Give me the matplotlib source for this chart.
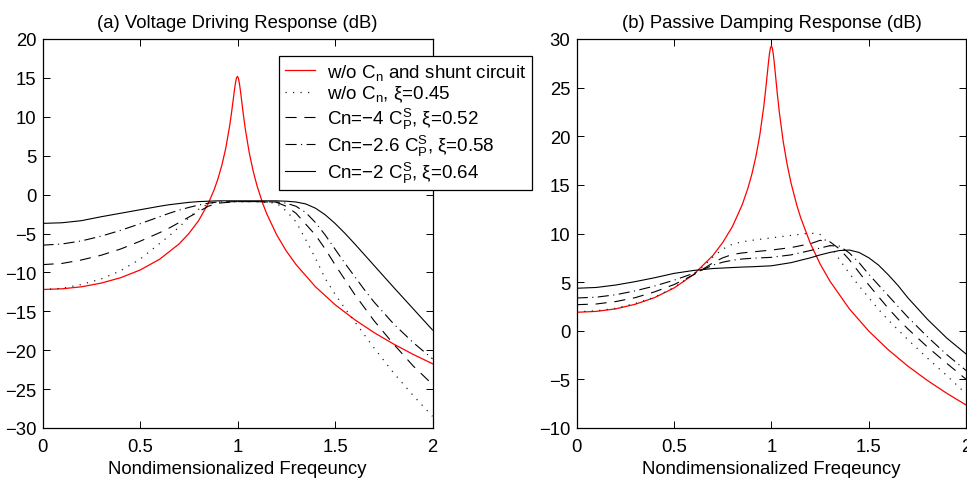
import matplotlib
matplotlib.use("Agg")
import matplotlib.pyplot as plt

plt.rcParams['font.family'] = ['Liberation Sans', 'DejaVu Sans']
plt.rcParams['mathtext.fontset'] = 'custom'
plt.rcParams['mathtext.rm'] = 'Liberation Sans'
plt.rcParams['mathtext.it'] = 'Liberation Sans:italic'
plt.rcParams['mathtext.bf'] = 'Liberation Sans:bold'

# ---------------- data ----------------
freq_fine = [0, 0.1, 0.2, 0.3, 0.4, 0.5, 0.6, 0.7, 0.75, 0.8, 0.85, 0.88, 0.9, 0.92, 0.94,
             0.96, 0.97, 0.98, 0.985, 0.99, 0.995, 1.0, 1.005, 1.01, 1.015, 1.02, 1.03, 1.04,
             1.06, 1.08, 1.1, 1.13, 1.15, 1.2, 1.25, 1.3, 1.4, 1.5, 1.6, 1.7, 1.8, 1.9, 2.0]

voltage_no_shunt = [-12.2, -12.11, -11.85, -11.38, -10.69, -9.7, -8.32, -6.35, -5.02, -3.37,
                    -1.14, 0.61, 2.05, 3.8, 5.99, 8.87, 10.64, 12.59, 13.56, 14.42, 15.01, 15.2,
                    14.92, 14.26, 13.35, 12.33, 10.29, 8.44, 5.41, 3.06, 1.14, -1.18, -2.47,
                    -5.13, -7.24, -8.99, -11.85, -14.14, -16.06, -17.73, -19.2, -20.53, -21.74]

damping_no_shunt = [1.9, 1.99, 2.25, 2.72, 3.41, 4.4, 5.78, 7.75, 9.08, 10.73, 12.96, 14.71,
                    16.15, 17.9, 20.09, 22.97, 24.74, 26.69, 27.66, 28.52, 29.11, 29.3, 29.02,
                    28.36, 27.45, 26.43, 24.39, 22.54, 19.51, 17.16, 15.24, 12.92, 11.63, 8.97,
                    6.86, 5.11, 2.25, -0.04, -1.96, -3.63, -5.1, -6.43, -7.64]

freq = [0, 0.1, 0.2, 0.3, 0.4, 0.5, 0.6, 0.65, 0.7, 0.75, 0.8, 0.85, 0.9, 1.0, 1.1, 1.2,
        1.25, 1.3, 1.35, 1.4, 1.45, 1.5, 1.55, 1.6, 1.65, 1.7, 1.8, 1.9, 2.0]

voltage_xi045 = [-12.2, -12.05, -11.55, -10.85, -9.8, -8.3, -6.3, -5.3, -4.2, -3.0, -1.9, -1.2,
                 -0.95, -0.9, -0.9, -1.1, -2.1, -3.5, -5.8, -8.2, -10.8, -12.8, -14.6, -16.3,
                 -18.0, -19.7, -22.9, -25.8, -28.5]
voltage_cn4 = [-9.0, -8.85, -8.4, -7.8, -7.0, -6.0, -4.9, -4.3, -3.6, -2.9, -2.2, -1.5, -1.1,
               -0.9, -0.9, -1.0, -1.5, -2.4, -3.8, -5.2, -7.0, -9.0, -10.9, -12.8, -14.5,
               -16.2, -19.2, -22.0, -24.4]
voltage_cn26 = [-6.5, -6.35, -5.95, -5.35, -4.6, -3.75, -2.85, -2.4, -2.0, -1.65, -1.35, -1.1,
                -0.95, -0.9, -0.9, -0.95, -1.1, -1.5, -2.3, -3.6, -5.2, -7.0, -8.8, -10.5,
                -12.2, -13.8, -16.6, -19.0, -21.1]
voltage_cn2 = [-3.7, -3.62, -3.35, -2.85, -2.4, -1.95, -1.5, -1.3, -1.15, -1.0, -0.9, -0.85,
               -0.8, -0.8, -0.8, -0.8, -0.85, -0.95, -1.2, -1.75, -2.6, -3.7, -4.95, -6.3,
               -7.7, -9.1, -11.9, -14.65, -17.4]

damping_xi045 = [1.95, 2.05, 2.3, 2.8, 3.45, 4.45, 5.8, 6.6, 7.6, 8.4, 8.9, 9.15, 9.3, 9.55,
                 9.8, 10.05, 9.9, 8.8, 7.3, 5.9, 4.6, 3.4, 2.2, 1.1, 0.1, -0.9, -2.8, -4.6, -6.5]
damping_cn4 = [2.68, 2.75, 3.0, 3.4, 4.0, 4.75, 5.75, 6.35, 7.0, 7.5, 7.85, 8.0, 8.1, 8.3,
               8.55, 8.95, 9.3, 9.15, 8.4, 7.3, 6.0, 4.7, 3.5, 2.3, 1.2, 0.2, -1.65, -3.35, -5.0]
damping_cn26 = [3.37, 3.45, 3.7, 4.1, 4.6, 5.2, 5.9, 6.3, 6.75, 7.05, 7.25, 7.38, 7.45, 7.55,
                7.8, 8.25, 8.5, 8.75, 8.7, 8.0, 7.0, 5.8, 4.7, 3.6, 2.5, 1.4, -0.6, -2.45, -4.1]
damping_cn2 = [4.37, 4.45, 4.7, 5.05, 5.45, 5.9, 6.2, 6.3, 6.4, 6.45, 6.5, 6.55, 6.58, 6.68,
               7.0, 7.5, 7.8, 8.05, 8.25, 8.3, 8.05, 7.5, 6.75, 5.75, 4.65, 3.4, 1.2, -0.75, -2.4]

series_labels = ['w/o C$_\\mathrm{n}$ and shunt circuit',
                 'w/o C$_\\mathrm{n}$, ξ=0.45',
                 'Cn=−4 C$_\\mathrm{P}^\\mathrm{S}$, ξ=0.52',
                 'Cn=−2.6 C$_\\mathrm{P}^\\mathrm{S}$, ξ=0.58',
                 'Cn=−2 C$_\\mathrm{P}^\\mathrm{S}$, ξ=0.64']

x_ticks = [0, 0.5, 1, 1.5, 2]
x_tick_labels = ['0', '0.5', '1', '1.5', '2']
y_ticks_a = [-30, -25, -20, -15, -10, -5, 0, 5, 10, 15, 20]
y_ticks_b = [-10, -5, 0, 5, 10, 15, 20, 25, 30]

titles = ['(a) Voltage Driving Response (dB)', '(b) Passive Damping Response (dB)']
xlabel = 'Nondimensionalized Freqeuncy'

# ---------------- figure ----------------
W, H = 967, 481
FS = 13.3
fig = plt.figure(figsize=(W / 100, H / 100), dpi=100)
ax_a = fig.add_axes([42.5 / W, 52 / H, 390 / W, 389 / H])
ax_b = fig.add_axes([576.7 / W, 52 / H, 389.5 / W, 389 / H])

lw = 0.8
styles = [
    dict(color='#ff0000', linestyle='-', linewidth=0.9),
    dict(color='#222222', linestyle=(0, (1, 5)), linewidth=0.9),
    dict(color='black', linestyle=(0, (10, 7)), linewidth=lw),
    dict(color='black', linestyle=(0, (10, 4, 1, 4)), linewidth=lw),
    dict(color='black', linestyle='-', linewidth=lw),
]

datasets = [
    (ax_a, voltage_no_shunt, [voltage_xi045, voltage_cn4, voltage_cn26, voltage_cn2], y_ticks_a),
    (ax_b, damping_no_shunt, [damping_xi045, damping_cn4, damping_cn26, damping_cn2], y_ticks_b),
]

handles = []
for i, (ax, red, others, yt) in enumerate(datasets):
    h = []
    h.append(ax.plot(freq_fine, red, label=series_labels[0], **styles[0])[0])
    for j, ys in enumerate(others):
        h.append(ax.plot(freq, ys, label=series_labels[j + 1], **styles[j + 1])[0])
    if i == 0:
        handles = h
    ax.set_xlim(x_ticks[0], x_ticks[-1])
    ax.set_ylim(yt[0], yt[-1])
    ax.set_xticks(x_ticks)
    ax.set_xticklabels(x_tick_labels)
    ax.set_yticks(yt)
    ax.set_yticklabels([str(v) if v >= 0 else '−' + str(-v) for v in yt])
    ax.tick_params(direction='in', top=True, right=True, length=5, width=0.7,
                   labelsize=FS, pad=4.5, colors='black')
    ax.tick_params(axis='x', pad=7.5)
    for s in ax.spines.values():
        s.set_linewidth(0.9)
        s.set_color('black')
    ax.set_title(titles[i], fontsize=FS, pad=9)
    ax.set_xlabel(xlabel, fontsize=FS, labelpad=3)

leg = fig.legend(handles=handles, labels=series_labels, loc='upper left',
                 bbox_to_anchor=(279 / W, 1 - 57 / H), bbox_transform=fig.transFigure,
                 fontsize=13.5, frameon=True, fancybox=False, shadow=False, framealpha=1,
                 edgecolor='black', borderaxespad=0, handlelength=1.6, handletextpad=0.65,
                 labelspacing=0.1, borderpad=0.3)
leg.get_frame().set_linewidth(0.9)

fig.savefig('out.png', dpi=100)
